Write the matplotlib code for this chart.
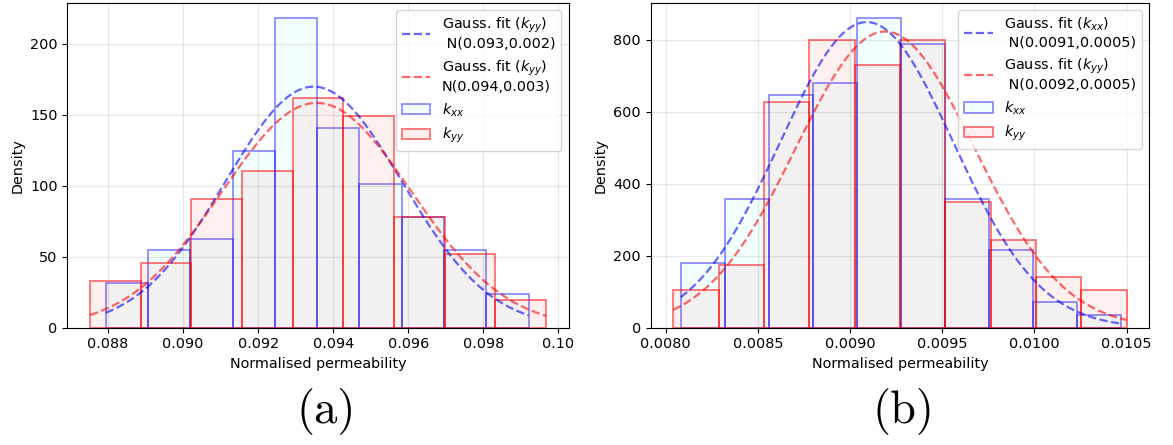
"""Histograms of normalised permeability with Gaussian fits, panels (a) and (b)."""

import matplotlib

matplotlib.use("Agg")
import matplotlib.pyplot as plt
import numpy as np

plt.rcParams["font.size"] = 10.4
plt.rcParams["mathtext.fontset"] = "dejavusans"

# panel (a): bin edges and densities
a_kxx_edges = [0.08794, 0.08907, 0.09019, 0.09132, 0.09245, 0.09358,
               0.09470, 0.09583, 0.09696, 0.09808, 0.09921]
a_kxx_dens = [31.4, 54.6, 62.3, 124.4, 217.8, 140.3, 101.4, 78.0, 54.6, 23.4]
a_kyy_edges = [0.08752, 0.08887, 0.09022, 0.09157, 0.09292, 0.09427,
               0.09562, 0.09697, 0.09832, 0.09967]
a_kyy_dens = [32.6, 45.4, 90.9, 110.3, 162.1, 149.2, 78.0, 51.8, 19.4]
a_fit_xx = (0.09348, 0.00235)  # mu, sigma
a_fit_yy = (0.09356, 0.00252)
a_labels = ["Gauss. fit ($k_{yy}$)\n N(0.093,0.002)",
            "Gauss. fit ($k_{yy}$)\nN(0.094,0.003)"]

# panel (b)
b_kxx_edges = [0.008081, 0.008320, 0.008559, 0.008798, 0.009037, 0.009276,
               0.009515, 0.009754, 0.009993, 0.010232, 0.010471]
b_kxx_dens = [179, 358, 645, 681, 859, 789, 358, 215, 71.5, 36]
b_kyy_edges = [0.008041, 0.008287, 0.008533, 0.008779, 0.009025, 0.009271,
               0.009516, 0.009762, 0.010008, 0.010254, 0.010500]
b_kyy_dens = [105, 174.5, 627, 800, 731, 800, 349, 244, 140, 105]
b_fit_xx = (0.00909, 0.000470)
b_fit_yy = (0.00919, 0.000485)
b_labels = ["Gauss. fit ($k_{xx}$)\n N(0.0091,0.0005)",
            "Gauss. fit ($k_{yy}$)\n N(0.0092,0.0005)"]

panel_tags = ["(a)", "(b)"]

# 颜色：重叠处呈浅灰
XX_FACE = (0.0, 1.0, 1.0, 0.05)
XX_EDGE = (0.0, 0.0, 1.0, 0.45)
YY_FACE = (1.0, 0.0, 0.0, 0.06)
YY_EDGE = (1.0, 0.0, 0.0, 0.55)


def _gauss(x, mu, sigma):
    return np.exp(-0.5 * ((x - mu) / sigma) ** 2) / (sigma * np.sqrt(2 * np.pi))


def _panel(ax, xx_edges, xx_dens, yy_edges, yy_dens, fit_xx, fit_yy, labels):
    ax.grid(True, color="#b0b0b0", alpha=0.3, linewidth=0.9)
    ax.set_axisbelow(True)
    _, _, p_xx = ax.hist(xx_edges[:-1], bins=xx_edges, weights=xx_dens,
                         facecolor=XX_FACE, edgecolor=XX_EDGE, linewidth=1.3,
                         label="$k_{xx}$")
    _, _, p_yy = ax.hist(yy_edges[:-1], bins=yy_edges, weights=yy_dens,
                         facecolor=YY_FACE, edgecolor=YY_EDGE, linewidth=1.3,
                         label="$k_{yy}$")

    x1 = np.linspace(xx_edges[0], xx_edges[-1], 200)
    x2 = np.linspace(yy_edges[0], yy_edges[-1], 200)
    (l1,) = ax.plot(x1, _gauss(x1, *fit_xx), "--", color="blue", alpha=0.6,
                    linewidth=1.6, label=labels[0])
    (l2,) = ax.plot(x2, _gauss(x2, *fit_yy), "--", color="red", alpha=0.6,
                    linewidth=1.6, label=labels[1])

    ax.set_xlabel("Normalised permeability")
    ax.set_ylabel("Density")
    ax.legend(handles=[l1, l2, p_xx[0], p_yy[0]], loc="upper right")


fig = plt.figure(figsize=(11.73, 4.45), dpi=100)
ax_a = fig.add_axes([0.0574, 0.2636, 0.4274, 0.7297])
ax_b = fig.add_axes([0.5547, 0.2636, 0.4251, 0.7297])

_panel(ax_a, a_kxx_edges, a_kxx_dens, a_kyy_edges, a_kyy_dens, a_fit_xx, a_fit_yy, a_labels)
_panel(ax_b, b_kxx_edges, b_kxx_dens, b_kyy_edges, b_kyy_dens, b_fit_xx, b_fit_yy, b_labels)
ax_a.set_xticks([0.088, 0.090, 0.092, 0.094, 0.096, 0.098, 0.100])
ax_a.set_xticklabels(["0.088", "0.090", "0.092", "0.094", "0.096", "0.098", "0.10"])

# 子图标号
fig.text(0.2785, 0.0748, panel_tags[0], fontfamily="cmr10", fontsize=33.5,
         ha="center", va="center")
fig.text(0.7698, 0.0748, panel_tags[1], fontfamily="cmr10", fontsize=33.5,
         ha="center", va="center")

fig.savefig("out.png", dpi=100)
plt.close(fig)
